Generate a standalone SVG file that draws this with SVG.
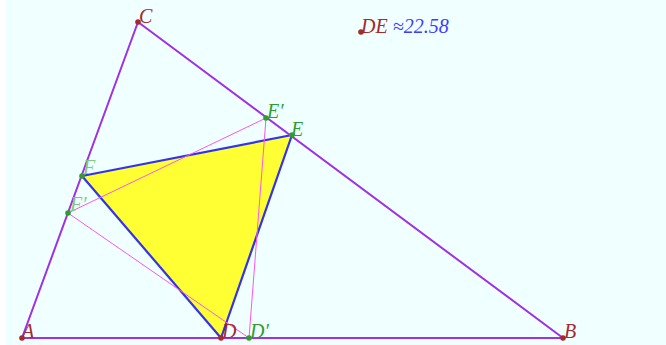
<svg xmlns="http://www.w3.org/2000/svg" width="666" height="345" viewBox="0 0 666 345">
<style>
.side{stroke:#a030e8;stroke-width:2;fill:none;stroke-linecap:round}
.pink{stroke:#ff55ee;stroke-width:1;fill:none}
.tri{fill:#ffff33;stroke:#3333ee;stroke-width:2.2;stroke-linejoin:round}
.pt{fill:#a52a2a}
.gp{fill:#2e9e2e}
.lbl{font-family:"Liberation Serif",serif;font-style:italic;font-size:20px}
.red{fill:#a52a2a}
.grn{fill:#2e9e2e}
.lgrn{fill:#7fc87f}
.blu{fill:#3c3cff}
</style>
<rect x="0" y="0" width="666" height="345" fill="#f0ffff"/>
<rect x="0" y="0" width="5" height="345" fill="#ffffff"/>
<g id="triangle-DEF">
<polygon class="tri" points="221,338 292,135 82,176"/>
</g>
<g id="connectors">
<line class="pink" x1="68" y1="213" x2="266" y2="118"/>
<line class="pink" x1="68" y1="213" x2="249" y2="338"/>
<line class="pink" x1="266" y1="118" x2="249" y2="338"/>
<line class="side" x1="22" y1="338" x2="563" y2="338"/>
<line class="side" x1="22" y1="338" x2="138" y2="22"/>
<line class="side" x1="138" y1="22" x2="563" y2="338"/>
</g>
<g id="A"><circle class="pt" cx="22" cy="338" r="2.8"/><text class="lbl red" x="22" y="338">A</text></g>
<g id="B"><circle class="pt" cx="563" cy="338" r="2.8"/><text class="lbl red" x="564" y="338">B</text></g>
<g id="C"><circle class="pt" cx="138" cy="22" r="2.8"/><text class="lbl red" x="139" y="23">C</text></g>
<g id="D"><circle class="pt" cx="221" cy="338" r="2.8"/><text class="lbl red" x="222" y="338">D</text></g>
<g id="Dp"><circle class="gp" cx="249" cy="338" r="2.8"/><text class="lbl grn" x="250" y="338">D′</text></g>
<g id="E"><circle class="gp" cx="292" cy="135" r="2.8"/><text class="lbl grn" x="291" y="136">E</text></g>
<g id="Ep"><circle class="gp" cx="266" cy="118" r="2.8"/><text class="lbl grn" x="267" y="118">E′</text></g>
<g id="F"><circle class="gp" cx="82" cy="176" r="2.8"/><text class="lbl lgrn" x="83" y="174">F</text></g>
<g id="Fp"><circle class="gp" cx="68" cy="213" r="2.8"/><text class="lbl lgrn" x="70" y="211">F′</text></g>
<g id="DE-measure"><circle class="pt" cx="361" cy="32" r="2.8"/><text class="lbl" x="361" y="33"><tspan class="red">DE</tspan><tspan class="blu"> ≈22.58</tspan></text></g>
</svg>
